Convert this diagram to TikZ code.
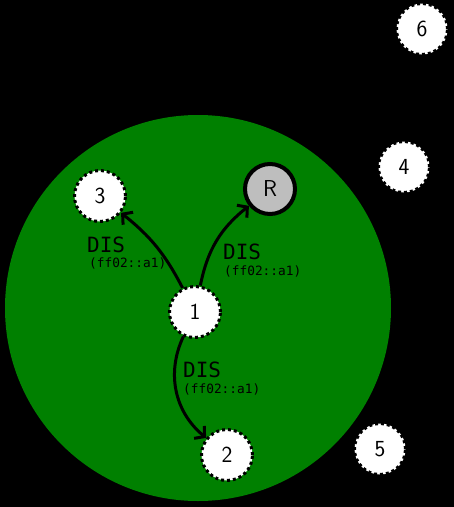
\documentclass[tikz,border=0pt]{standalone}
\usepackage{fontspec}
\newfontfamily\labelmono{DejaVu Sans Mono}
\usetikzlibrary{arrows.meta}
\definecolor{zonegreen}{RGB}{0,128,0}
\definecolor{rgray}{RGB}{190,190,190}
\tikzset{
  peer/.style={circle, fill=white, draw=black, line width=3pt, dash pattern=on 3pt off 3pt,
    minimum size=51pt, inner sep=0pt, font=\sffamily\fontsize{23}{27}\selectfont},
  router/.style={circle, fill=rgray, draw=black, line width=4pt,
    minimum size=50pt, inner sep=0pt, font=\sffamily\fontsize{23}{27}\selectfont},
  msg/.style={draw=black, line width=3pt, -{Straight Barb[length=7pt,width=16pt,line width=3pt]}},
  bigtxt/.style={anchor=base west, inner sep=0pt, font=\labelmono\fontsize{21}{25}\selectfont},
  smalltxt/.style={anchor=base west, inner sep=0pt, font=\labelmono\fontsize{12.8}{15}\selectfont},
}
\begin{document}
\begin{tikzpicture}[x=1pt,y=-1pt]
\fill[black] (0,0) rectangle (454,507);
\useasboundingbox (0,0) rectangle (454,507);
\fill[zonegreen] (198,308) circle[radius=193];
\node[peer] (n6) at (422,29) {6};
\node[peer] (n4) at (404,167) {4};
\node[peer] (n5) at (380,449) {5};
\node[peer] (n3) at (100,196) {3};
\node[router] (r) at (270,189) {R};
\node[peer] (n1) at (195,312) {1};
\node[peer] (n2) at (227,455) {2};
\draw[msg] (n1) to[bend right=12] (n3);
\draw[msg] (n1) to[bend left=20] (r);
\draw[msg] (n1) to[bend right=38] (n2);
\node[bigtxt] (l3a) at (87,252) {DIS};
\node[smalltxt] (l3b) at (89,267) {(ff02::a1)};
\node[bigtxt] (lra) at (223,259) {DIS};
\node[smalltxt] (lrb) at (224,275) {(ff02::a1)};
\node[bigtxt] (l2a) at (183,377) {DIS};
\node[smalltxt] (l2b) at (183,393) {(ff02::a1)};
\end{tikzpicture}
\end{document}
